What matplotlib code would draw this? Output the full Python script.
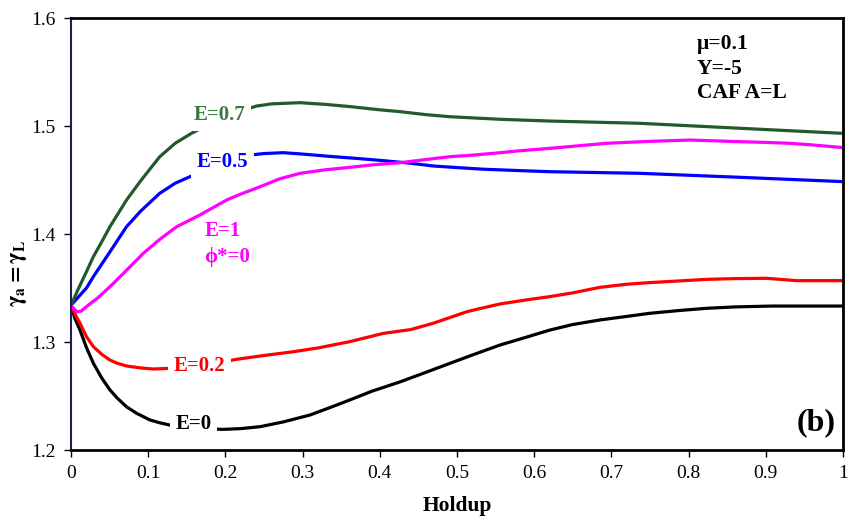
import matplotlib
matplotlib.use("Agg")
import matplotlib.pyplot as plt

plt.rcParams['font.family'] = ['Liberation Serif', 'DejaVu Serif']
plt.rcParams['mathtext.fontset'] = 'stix'

# curves (holdup, gamma)
x_e0 = [0, 0.005, 0.0117, 0.02, 0.029, 0.04, 0.0505, 0.06, 0.072, 0.085, 0.1023, 0.115, 0.128,
        0.16, 0.197, 0.22, 0.245, 0.275, 0.3096, 0.34, 0.361, 0.39, 0.426, 0.46, 0.491, 0.52,
        0.5557, 0.59, 0.620, 0.65, 0.685, 0.72, 0.750, 0.79, 0.8234, 0.86, 0.909, 0.95, 1.0]
y_e0 = [1.334, 1.322, 1.311, 1.295, 1.2803, 1.2665, 1.2556, 1.248, 1.240, 1.234, 1.2278, 1.2252,
        1.2231, 1.220, 1.2191, 1.2198, 1.2216, 1.226, 1.2324, 1.2405, 1.2463, 1.2545, 1.2630,
        1.2720, 1.2803, 1.288, 1.2972, 1.3045, 1.311, 1.3162, 1.3204, 1.3237, 1.3266, 1.3293,
        1.3312, 1.3325, 1.3333, 1.3333, 1.3333]

x_e02 = [0, 0.005, 0.0117, 0.02, 0.029, 0.04, 0.0505, 0.06, 0.072, 0.09, 0.107, 0.128, 0.17,
         0.2146, 0.25, 0.288, 0.32, 0.361, 0.4046, 0.44, 0.469, 0.5126, 0.53, 0.5557, 0.59,
         0.620, 0.65, 0.685, 0.72, 0.750, 0.8234, 0.86, 0.901, 0.940, 0.97, 1.0]
y_e02 = [1.334, 1.326, 1.3173, 1.305, 1.2957, 1.2885, 1.2833, 1.2803, 1.2778, 1.276, 1.275,
         1.2756, 1.278, 1.284, 1.2875, 1.291, 1.2945, 1.3003, 1.308, 1.3115, 1.3173, 1.328,
         1.331, 1.3352, 1.339, 1.342, 1.3455, 1.3506, 1.3535, 1.355, 1.358, 1.3587, 1.359,
         1.3568, 1.3568, 1.3568]

x_e05 = [0, 0.01, 0.02, 0.029, 0.05, 0.072, 0.09, 0.115, 0.135, 0.156, 0.19, 0.232, 0.25,
         0.275, 0.30, 0.340, 0.37, 0.405, 0.44, 0.469, 0.5, 0.534, 0.57, 0.620, 0.737,
         0.8666, 1.0]
y_e05 = [1.334, 1.342, 1.350, 1.3605, 1.383, 1.4068, 1.421, 1.4377, 1.447, 1.4537, 1.466,
         1.4731, 1.4745, 1.4753, 1.474, 1.4716, 1.470, 1.4679, 1.4655, 1.463, 1.4615, 1.460,
         1.459, 1.4577, 1.4562, 1.4525, 1.4485]

x_e07 = [0, 0.01, 0.02, 0.029, 0.04, 0.0505, 0.072, 0.09, 0.115, 0.135, 0.156, 0.18, 0.2,
         0.22, 0.2405, 0.26, 0.2966, 0.33, 0.361, 0.4, 0.426, 0.46, 0.491, 0.556, 0.620,
         0.737, 0.8666, 1.0]
y_e07 = [1.334, 1.350, 1.365, 1.379, 1.393, 1.4068, 1.4315, 1.449, 1.4716, 1.484, 1.4932,
         1.502, 1.508, 1.514, 1.5185, 1.5205, 1.5216, 1.520, 1.518, 1.515, 1.5133, 1.5105,
         1.5086, 1.5062, 1.5046, 1.5025, 1.4979, 1.4932]

x_e1 = [0, 0.0074, 0.013, 0.020, 0.035, 0.0505, 0.07, 0.0937, 0.115, 0.137, 0.167, 0.2017,
        0.22, 0.245, 0.27, 0.2966, 0.33, 0.361, 0.39, 0.426, 0.46, 0.491, 0.52, 0.556, 0.58,
        0.620, 0.694, 0.75, 0.8018, 0.8666, 0.9, 0.931, 0.96, 1.0]
y_e1 = [1.334, 1.328, 1.3285, 1.3327, 1.341, 1.3512, 1.365, 1.3821, 1.395, 1.4068, 1.4176,
        1.4315, 1.437, 1.4438, 1.451, 1.4562, 1.4595, 1.4617, 1.464, 1.466, 1.469, 1.4716,
        1.473, 1.4753, 1.477, 1.4793, 1.484, 1.4858, 1.487, 1.4855, 1.4848, 1.484, 1.4825,
        1.480]

fig = plt.figure(figsize=(8.48, 5.16), dpi=100)
ax = fig.add_axes([0.0837, 0.1279, 0.9104, 0.8372])

lw = 2.3
ax.plot(x_e0, y_e0, color='black', lw=lw)
ax.plot(x_e02, y_e02, color='#ff0000', lw=lw)
ax.plot(x_e05, y_e05, color='#0000ff', lw=lw)
ax.plot(x_e07, y_e07, color='#215a2c', lw=lw)
ax.plot(x_e1, y_e1, color='#ff00ff', lw=lw)

box = dict(fc='white', ec='none', pad=4)
fs = 15
ax.text(0.192, 1.510, 'E=0.7', color='#3a7a3e', fontsize=fs, fontweight='bold',
        ha='center', va='center', bbox=box)
ax.text(0.196, 1.4667, 'E=0.5', color='#0000ff', fontsize=fs, fontweight='bold',
        ha='center', va='center', bbox=box)
ax.text(0.173, 1.403, 'E=1', color='#ff00ff', fontsize=fs, fontweight='bold',
        ha='left', va='center')
ax.text(0.173, 1.379, 'ϕ*=0', color='#ff00ff', fontsize=fs, fontweight='bold',
        ha='left', va='center')
ax.text(0.167, 1.278, 'E=0.2', color='#ff0000', fontsize=fs, fontweight='bold',
        ha='center', va='center', bbox=box)
ax.text(0.159, 1.2245, 'E=0', color='black', fontsize=fs, fontweight='bold',
        ha='center', va='center', bbox=box)

ax.text(0.811, 1.576, 'μ=0.1', fontsize=15.5, fontweight='bold', ha='left', va='center')
ax.text(0.811, 1.553, 'Y=-5', fontsize=15.5, fontweight='bold', ha='left', va='center')
ax.text(0.811, 1.5306, 'CAF A=L', fontsize=15.5, fontweight='bold', ha='left', va='center')
ax.text(0.99, 1.225, '(b)', fontsize=23, fontweight='bold', ha='right', va='center')

ax.set_xlim(0, 1)
ax.set_ylim(1.2, 1.6)
ax.set_xticks([0, 0.1, 0.2, 0.3, 0.4, 0.5, 0.6, 0.7, 0.8, 0.9, 1])
ax.set_xticklabels(['0', '0.1', '0.2', '0.3', '0.4', '0.5', '0.6', '0.7', '0.8', '0.9', '1'])
ax.set_yticks([1.2, 1.3, 1.4, 1.5, 1.6])
ax.set_yticklabels(['1.2', '1.3', '1.4', '1.5', '1.6'])
ax.tick_params(labelsize=14, length=5, width=1, direction='out', pad=6)

for s in ['top', 'bottom', 'right']:
    ax.spines[s].set_linewidth(2)
    ax.spines[s].set_color('black')
ax.spines['left'].set_linewidth(1.5)
ax.spines['left'].set_color('#1c1c5c')

ax.set_xlabel('Holdup', fontsize=15.5, fontweight='bold', labelpad=10)
ax.set_ylabel(r'$\mathbf{\gamma_a = \gamma_L}$', fontsize=16)
ax.yaxis.set_label_coords(-0.054, 0.41)

fig.savefig('out.png', dpi=100)
